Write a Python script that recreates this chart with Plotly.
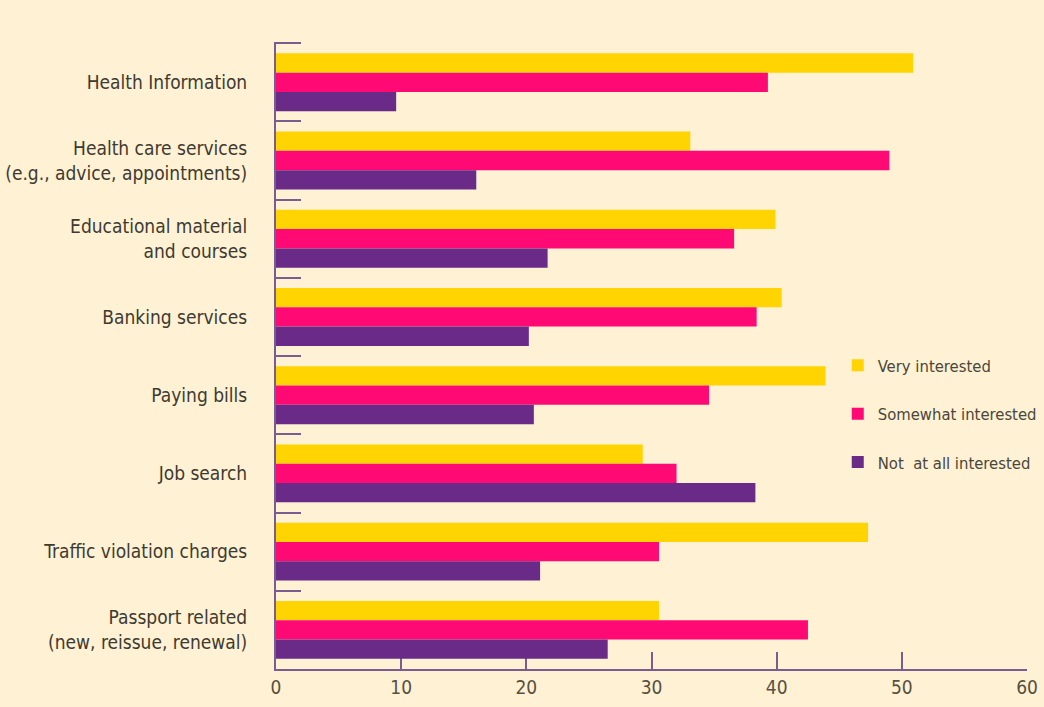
import plotly.graph_objects as go

categories = [
    "Health Information",
    "Health care services<br>(e.g., advice, appointments)",
    "Educational material<br>and courses",
    "Banking services",
    "Paying bills",
    "Job search",
    "Traffic violation charges",
    "Passport related<br>(new, reissue, renewal)",
]
very_interested = [50.9, 33.1, 39.9, 40.4, 43.9, 29.3, 47.3, 30.6]
somewhat_interested = [39.3, 49.0, 36.6, 38.4, 34.6, 32.0, 30.6, 42.5]
not_interested = [9.6, 16.0, 21.7, 20.2, 20.6, 38.3, 21.1, 26.5]
x_ticks = [0, 10, 20, 30, 40, 50, 60]

series_names = ["Very interested", "Somewhat interested", "Not  at all interested"]
series_values = [very_interested, somewhat_interested, not_interested]
colors = ["#FFD400", "#FF0A74", "#6A2A88"]

BG = "#FEF1D4"
AXIS = "#7A5C8E"
FONT = "DejaVu Sans Condensed, sans-serif"

fig = go.Figure()
for i, (name, vals, col) in enumerate(zip(series_names, series_values, colors)):
    fig.add_trace(go.Bar(
        y=categories, x=vals, name=name, orientation="h",
        marker=dict(color=col, line=dict(width=0)),
        legendgroup=f"g{i}",
    ))

n = len(categories)
fig.update_layout(
    width=1044, height=707,
    paper_bgcolor=BG, plot_bgcolor=BG,
    margin=dict(l=276, r=17, t=42, b=38, autoexpand=False),
    barmode="group", bargap=0.26, bargroupgap=0,
    font=dict(family=FONT, color="#3E3A30"),
    legend=dict(
        x=0.748, y=0.512, xanchor="left", yanchor="top",
        bgcolor="rgba(0,0,0,0)", font=dict(size=16.5, color="#4A463A", family=FONT),
        tracegroupgap=24, itemwidth=30,
    ),
    showlegend=True,
)
fig.update_xaxes(
    range=[0, 60], tickvals=x_ticks, ticktext=[str(v) for v in x_ticks],
    ticks="inside", ticklen=17, tickwidth=2, tickcolor=AXIS,
    showline=True, linecolor=AXIS, linewidth=2,
    showgrid=False, zeroline=False, layer="below traces",
    tickfont=dict(size=19, color="#57503F", family=FONT),
    automargin=False,
)
fig.update_yaxes(
    range=[n - 0.5, -0.515], type="category",
    ticks="inside", ticklen=25, tickwidth=2, tickcolor=AXIS,
    tickson="boundaries",
    showline=True, linecolor=AXIS, linewidth=2,
    showgrid=False, zeroline=False, layer="below traces",
    tickfont=dict(size=19, color="#3E3A30", family=FONT),
    ticklabelstandoff=23, automargin=False,
)

fig.write_html("out.html", config={"displayModeBar": False},
               post_script="document.body.style.margin='0';")
